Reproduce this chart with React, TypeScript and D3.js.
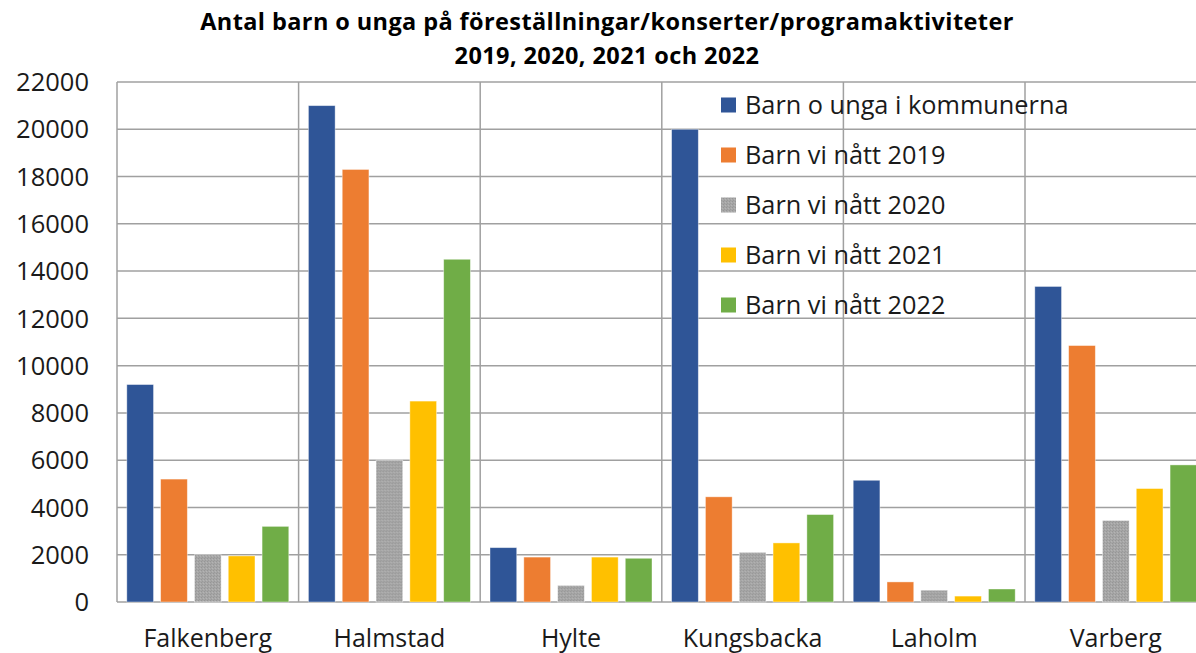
import * as d3 from "d3";

const WIDTH = 1196;
const HEIGHT = 653;
const MARGIN = { top: 82, left: 117, bottom: 51 };

const categories = ["Falkenberg", "Halmstad", "Hylte", "Kungsbacka", "Laholm", "Varberg"];
const seriesNames = [
  "Barn o unga i kommunerna",
  "Barn vi nått 2019",
  "Barn vi nått 2020",
  "Barn vi nått 2021",
  "Barn vi nått 2022",
];
const kommunerna = [9200, 21000, 2300, 20000, 5150, 13350];
const natt2019 = [5200, 18300, 1900, 4450, 850, 10850];
const natt2020 = [2000, 6000, 700, 2100, 500, 3450];
const natt2021 = [1950, 8500, 1900, 2500, 250, 4800];
const natt2022 = [3200, 14500, 1850, 3700, 550, 5800];
const yTicks = [0, 2000, 4000, 6000, 8000, 10000, 12000, 14000, 16000, 18000, 20000, 22000];

const colors = ["#2f5597", "#ed7d31", "url(#grayDots)", "#ffc000", "#70ad47"];
const series = [kommunerna, natt2019, natt2020, natt2021, natt2022];

const FONT = "'Open Sans', 'Liberation Sans', Arial, sans-serif";

export default function App() {
  const catWidth = 181.6;
  const plotRight = MARGIN.left + catWidth * categories.length;
  const plotBottom = HEIGHT - MARGIN.bottom;

  const x0 = d3.scaleBand().domain(categories).range([MARGIN.left, plotRight]).padding(0);
  const x1 = d3
    .scaleBand()
    .domain(seriesNames)
    .range([0, x0.bandwidth()])
    .paddingInner(0.21)
    .paddingOuter(0.29);
  const y = d3.scaleLinear().domain([0, 22000]).range([plotBottom, MARGIN.top]);

  const gridColor = "#a0a0a0";

  return (
    <svg
      width={WIDTH}
      height={HEIGHT}
      style={{ position: "absolute", left: 0, top: 0, background: "#fff" }}
      fontFamily={FONT}
    >
      <defs>
        <pattern id="grayDots" width="3" height="3" patternUnits="userSpaceOnUse">
          <rect width="3" height="3" fill="#a6a6a6" />
          <rect x="0" y="0" width="1" height="1" fill="#969696" />
          <rect x="2" y="1" width="1" height="1" fill="#b4b4b4" />
          <rect x="1" y="2" width="1" height="1" fill="#9a9a9a" />
        </pattern>
      </defs>

      {/* title */}
      <text x={607} y={30} textAnchor="middle" fontWeight="bold" fontSize={23.5} letterSpacing={0.4} fill="#000">
        Antal barn o unga på föreställningar/konserter/programaktiviteter
      </text>
      <text x={607} y={64} textAnchor="middle" fontWeight="bold" fontSize={23.5} letterSpacing={0.4} fill="#000">
        2019, 2020, 2021 och 2022
      </text>

      {/* horizontal grid */}
      {yTicks.map((t) => (
        <line
          key={"g" + t}
          x1={MARGIN.left}
          x2={plotRight}
          y1={y(t)}
          y2={y(t)}
          stroke={gridColor}
          strokeWidth={1.5}
        />
      ))}
      {/* vertical grid at category boundaries */}
      {categories.map((c) => (
        <line
          key={"v" + c}
          x1={x0(c)!}
          x2={x0(c)!}
          y1={MARGIN.top}
          y2={plotBottom}
          stroke={gridColor}
          strokeWidth={1.5}
        />
      ))}
      <line x1={plotRight} x2={plotRight} y1={MARGIN.top} y2={plotBottom} stroke={gridColor} strokeWidth={1.5} />

      {/* bars */}
      {categories.map((c, ci) => (
        <g key={c} transform={`translate(${x0(c)},0)`}>
          {series.map((s, si) => (
            <rect
              key={si}
              x={x1(seriesNames[si])}
              y={y(s[ci])}
              width={x1.bandwidth()}
              height={plotBottom - y(s[ci])}
              fill={colors[si]}
              stroke="#ffffff"
              strokeOpacity={0.5}
              strokeWidth={0.8}
            />
          ))}
        </g>
      ))}

      {/* y tick labels */}
      {yTicks.map((t) => (
        <text key={"t" + t} x={89} y={y(t)} dy="0.36em" textAnchor="end" fontSize={25.5} fill="#1a1a1a">
          {t}
        </text>
      ))}

      {/* category labels */}
      {categories.map((c) => (
        <text
          key={"c" + c}
          x={x0(c)! + x0.bandwidth() / 2}
          y={647}
          textAnchor="middle"
          fontSize={25}
          fill="#1a1a1a"
        >
          {c}
        </text>
      ))}

      {/* legend */}
      {seriesNames.map((n, i) => {
        const cy = 105 + i * 50;
        return (
          <g key={"l" + n}>
            <rect x={721} y={cy - 7.5} width={15} height={15} fill={colors[i]} />
            <text x={745} y={cy} dy="0.36em" fontSize={25.3} fill="#1a1a1a">
              {n}
            </text>
          </g>
        );
      })}
    </svg>
  );
}
